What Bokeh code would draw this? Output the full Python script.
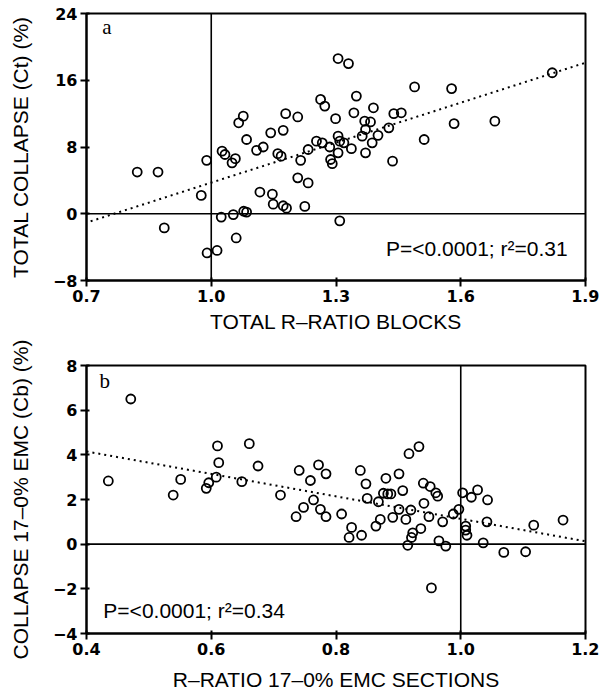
from bokeh.plotting import figure
from bokeh.layouts import column
from bokeh.models import FixedTicker, Span, Label
from bokeh.embed import file_html
from bokeh.resources import INLINE

# ---------------- Panel a data ----------------
xa = [0.822, 0.872, 0.887, 0.976, 0.989, 0.990, 1.014, 1.024, 1.053, 1.078, 1.085, 1.060,
      1.026, 1.033, 1.050, 1.058, 1.066, 1.077, 1.085, 1.109, 1.125, 1.143, 1.173, 1.179,
      1.208, 1.160, 1.168, 1.215, 1.208, 1.233, 1.117, 1.147, 1.149, 1.173, 1.181, 1.225,
      1.233, 1.263, 1.273, 1.253, 1.267, 1.305, 1.330, 1.489, 1.349, 1.299, 1.343, 1.390,
      1.439, 1.457, 1.369, 1.383, 1.427, 1.371, 1.363, 1.401, 1.387, 1.371, 1.512, 1.436,
      1.305, 1.309, 1.319, 1.337, 1.285, 1.305, 1.287, 1.291, 1.309, 1.578, 1.820, 1.584,
      1.682]
ya = [5.0, 5.0, -1.7, 2.2, 6.4, -4.7, -4.4, -0.4, -0.1, 0.3, 0.2, -2.9,
      7.5, 7.1, 6.1, 6.6, 10.9, 11.7, 8.9, 7.6, 8.0, 9.7, 10.0, 12.0,
      11.6, 7.2, 6.9, 6.4, 4.3, 3.7, 2.6, 2.35, 1.15, 0.96, 0.67, 0.88,
      7.7, 13.7, 12.9, 8.7, 8.5, 18.6, 18.0, 15.2, 14.1, 11.4, 12.1, 12.7,
      12.0, 12.1, 11.1, 11.0, 10.3, 10.1, 9.3, 9.4, 8.5, 7.3, 8.9, 6.3,
      9.3, 8.7, 8.5, 7.8, 8.0, 7.3, 6.5, 6.0, -0.85, 15.0, 16.9, 10.8,
      11.1]
fit_a_x = [0.71, 1.9]
fit_a_y = [-0.9, 18.1]
xticks_a = [0.7, 1.0, 1.3, 1.6, 1.9]
xlabels_a = ["0.7", "1.0", "1.3", "1.6", "1.9"]
yticks_a = [-8, 0, 8, 16, 24]
ylabels_a = ["\u22128", "0", "8", "16", "24"]
stat_a = "P=<0.0001; r\u00b2=0.31"

# ---------------- Panel b data ----------------
xb = [0.435, 0.471, 0.539, 0.551, 0.592, 0.596, 0.608, 0.610, 0.612, 0.649, 0.661, 0.675,
      0.711, 0.736, 0.741, 0.748, 0.759, 0.764, 0.772, 0.775, 0.784, 0.784, 0.809, 0.821,
      0.825, 0.839, 0.841, 0.848, 0.850, 0.864, 0.868, 0.871, 0.876, 0.880, 0.883, 0.888,
      0.891, 0.901, 0.901, 0.907, 0.912, 0.915, 0.917, 0.920, 0.921, 0.923, 0.933, 0.936,
      0.940, 0.941, 0.949, 0.951, 0.953, 0.960, 0.963, 0.965, 0.971, 0.976, 0.988, 0.997,
      1.003, 1.008, 1.008, 1.010, 1.017, 1.027, 1.036, 1.042, 1.043, 1.069, 1.104, 1.117,
      1.164]
yb = [2.83, 6.5, 2.2, 2.9, 2.5, 2.75, 3.0, 4.4, 3.65, 2.8, 4.5, 3.5,
      2.2, 1.23, 3.3, 1.65, 2.85, 1.98, 3.55, 1.56, 3.15, 1.23, 1.35, 0.3,
      0.75, 3.3, 0.4, 2.7, 2.05, 0.81, 1.9, 1.11, 2.28, 2.95, 2.25, 2.25,
      1.2, 3.15, 1.56, 2.4, 1.11, -0.05, 4.05, 1.53, 0.3, 0.51, 4.37, 0.7,
      2.73, 1.83, 1.23, 2.58, -1.96, 2.3, 2.15, 0.15, 1.0, -0.09, 1.35, 1.56,
      2.3, 0.81, 0.63, 0.4, 2.1, 2.43, 0.06, 1.0, 1.98, -0.37, -0.34, 0.85,
      1.08]
fit_b_x = [0.4, 1.2]
fit_b_y = [4.15, 0.13]
xticks_b = [0.4, 0.6, 0.8, 1.0, 1.2]
xlabels_b = ["0.4", "0.6", "0.8", "1.0", "1.2"]
yticks_b = [-4, -2, 0, 2, 4, 6, 8]
ylabels_b = ["\u22124", "\u22122", "0", "2", "4", "6", "8"]
stat_b = "P=<0.0001; r\u00b2=0.34"

SANS = "Liberation Sans"
TICKFONT = "DejaVu Sans"


def style(p, xt, xl, yt, yl, xlabel, ylabel, xstand, ystand):
    p.grid.visible = False
    p.outline_line_color = "black"
    p.outline_line_width = 2
    p.xaxis.ticker = FixedTicker(ticks=xt)
    p.yaxis.ticker = FixedTicker(ticks=yt)
    p.xaxis.major_label_overrides = {t: s for t, s in zip(xt, xl)}
    p.yaxis.major_label_overrides = {t: s for t, s in zip(yt, yl)}
    for ax in (p.xaxis, p.yaxis):
        ax.axis_line_width = 2
        ax.axis_line_color = "black"
        ax.major_tick_line_width = 2
        ax.major_tick_line_color = "black"
        ax.major_tick_in = 3
        ax.major_tick_out = 6
        ax.minor_tick_line_color = None
        ax.major_label_text_font = TICKFONT
        ax.major_label_text_font_style = "bold"
        ax.major_label_text_font_size = "16px"
        ax.major_label_text_color = "black"
        ax.axis_label_text_font = SANS
        ax.axis_label_text_font_style = "normal"
        ax.axis_label_text_font_size = "21px"
        ax.axis_label_text_color = "black"
        ax.major_label_standoff = 3
    p.xaxis.axis_label = xlabel
    p.yaxis.axis_label = ylabel
    p.xaxis.axis_label_standoff = xstand
    p.yaxis.axis_label_standoff = ystand
    p.background_fill_color = "white"
    p.border_fill_color = "white"


# ---------------- Panel a ----------------
p1 = figure(width=599, height=340, x_range=(0.7, 1.9), y_range=(-8, 24),
            min_border_left=86, min_border_right=14, min_border_top=13, min_border_bottom=60,
            output_backend="svg", toolbar_location=None)
style(p1, xticks_a, xlabels_a, yticks_a, ylabels_a,
      "TOTAL R\u2013RATIO BLOCKS", "TOTAL COLLAPSE (Ct) (%)", 5, 18)
p1.add_layout(Span(location=1.0, dimension="height", line_color="black", line_width=1.6))
p1.add_layout(Span(location=0.0, dimension="width", line_color="black", line_width=1.6))
p1.line(fit_a_x, fit_a_y, line_color="black", line_width=2, line_dash="2 4")
p1.scatter(xa, ya, marker="circle", size=9, fill_color=None, line_color="black", line_width=1.8)
p1.add_layout(Label(x=0.738, y=20.9, text="a", text_font="Liberation Serif",
                    text_font_size="21px", text_color="black"))
p1.add_layout(Label(x=1.857, y=-5.5, text=stat_a, text_font=SANS, text_align="right",
                    text_font_size="21px", text_color="black"))

# ---------------- Panel b ----------------
p2 = figure(width=599, height=360, x_range=(0.4, 1.2), y_range=(-4, 8),
            min_border_left=85, min_border_right=14, min_border_top=25, min_border_bottom=67,
            output_backend="svg", toolbar_location=None)
style(p2, xticks_b, xlabels_b, yticks_b, ylabels_b,
      "R\u2013RATIO 17\u20130% EMC SECTIONS", "COLLAPSE 17\u20130% EMC (Cb) (%)", 10, 18)
p2.add_layout(Span(location=1.0, dimension="height", line_color="black", line_width=1.6))
p2.add_layout(Span(location=0.0, dimension="width", line_color="black", line_width=1.6))
p2.line(fit_b_x, fit_b_y, line_color="black", line_width=2, line_dash="2 4")
p2.scatter(xb, yb, marker="circle", size=9, fill_color=None, line_color="black", line_width=1.8)
p2.add_layout(Label(x=0.421, y=6.79, text="b", text_font="Liberation Serif",
                    text_font_size="21px", text_color="black"))
p2.add_layout(Label(x=0.427, y=-3.49, text=stat_b, text_font=SANS, text_align="left",
                    text_font_size="21px", text_color="black"))

layout = column(p1, p2, spacing=0)
open("out.html", "w").write(file_html(layout, INLINE))
